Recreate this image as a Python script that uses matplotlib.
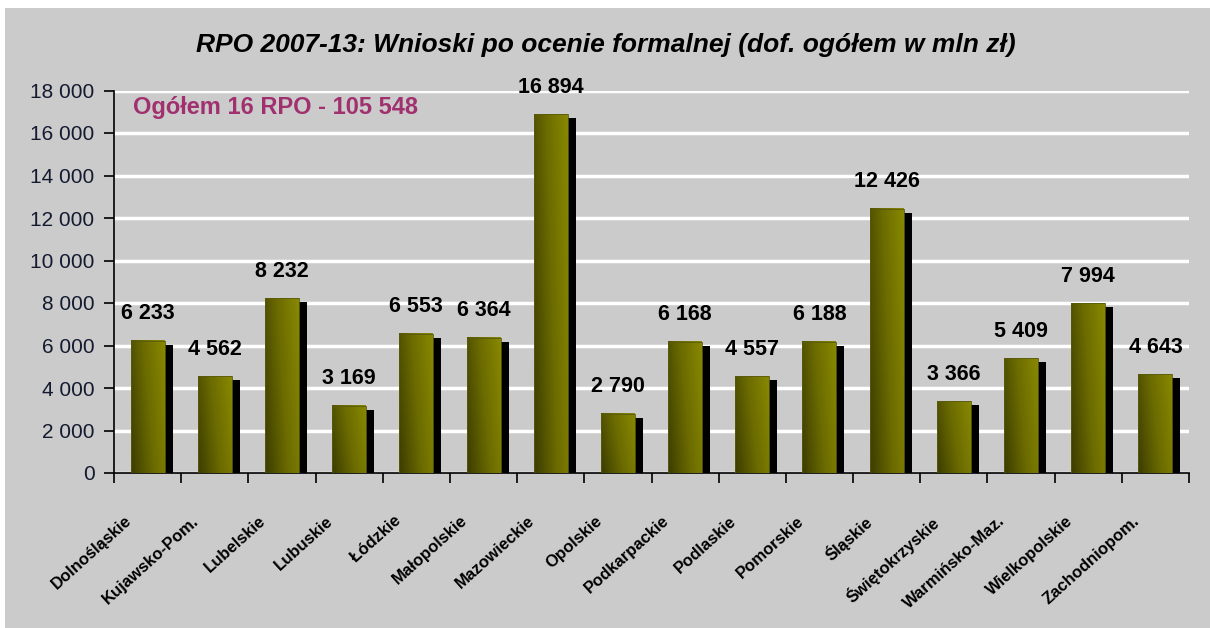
import numpy as np
import matplotlib
matplotlib.use("Agg")
from matplotlib import pyplot as plt
from matplotlib.colors import LinearSegmentedColormap
from matplotlib.patches import Rectangle
from matplotlib.transforms import ScaledTranslation

plt.rcParams['font.family'] = ['Liberation Sans', 'DejaVu Sans']

# Dane
wojewodztwa = ['Dolnośląskie', 'Kujawsko-Pom.', 'Lubelskie', 'Lubuskie', 'Łódzkie',
               'Małopolskie', 'Mazowieckie', 'Opolskie', 'Podkarpackie', 'Podlaskie',
               'Pomorskie', 'Śląskie', 'Świętokrzyskie', 'Warmińsko-Maz.',
               'Wielkopolskie', 'Zachodniopom.']
wartosci = [6233, 4562, 8232, 3169, 6553, 6364, 16894, 2790, 6168, 4557,
            6188, 12426, 3366, 5409, 7994, 4643]
tytul = 'RPO 2007-13: Wnioski po ocenie formalnej (dof. ogółem w mln zł)'
opis = 'Ogółem 16 RPO - 105 548'

tlo = '#cbcbcb'
fig = plt.figure(figsize=(12.1, 6.28), dpi=100)
fig.patch.set_facecolor(tlo)
# biale paski na brzegu jak w oryginale
fig.patches.append(Rectangle((0, 1 - 8 / 628), 1, 8 / 628, transform=fig.transFigure,
                             facecolor='white', edgecolor='none'))
fig.patches.append(Rectangle((0, 0), 5 / 1210, 1, transform=fig.transFigure,
                             facecolor='white', edgecolor='none'))

ax = fig.add_axes([114 / 1210, 1 - 473 / 628, 1075 / 1210, 382.5 / 628])
ax.set_facecolor(tlo)

cmap = LinearSegmentedColormap.from_list('oliwka', ['#3c3c00', '#6a6a00', '#888800'])
xx, yy = np.meshgrid(np.linspace(0, 1, 60), np.linspace(0, 1, 60))
gradient = 0.75 * xx + 0.25 * yy

x = np.arange(len(wartosci))
px = 1 / 67.2          # jeden piksel w jednostkach osi x
py = 2000 / 42.5       # jeden piksel w jednostkach osi y
szer = 34 * px

for i, v in enumerate(wartosci):
    x0 = x[i] - szer / 2
    # cien
    ax.add_patch(Rectangle((x0 + 8 * px, 0), szer, v - 4 * py,
                           facecolor='black', edgecolor='none', zorder=2))
    ax.imshow(gradient, cmap=cmap, extent=(x0, x0 + szer, 0, v), origin='lower',
              aspect='auto', zorder=3, interpolation='bilinear')
    ax.add_patch(Rectangle((x0, 0), szer, v, facecolor='none',
                           edgecolor='#5a5a10', linewidth=0.6, zorder=4))
    ax.text(x[i], v + 27 * py, f'{v:,}'.replace(',', ' '), ha='center', va='center',
            fontsize=15.5, fontweight='bold', color='black', zorder=5)

ax.set_xlim(-0.5, len(wartosci) - 0.5)
ax.set_ylim(0, 18000)
ax.set_yticks(np.arange(0, 18001, 2000))
ax.set_yticklabels([f'{t:,}'.replace(',', ' ') for t in range(0, 18001, 2000)],
                   fontsize=15, color='#141a30')
ax.grid(axis='y', color='white', linewidth=2.5, zorder=1)
ax.set_axisbelow(True)

ax.set_xticks(np.arange(-0.5, len(wartosci), 1))
ax.set_xticklabels([])
ax.tick_params(axis='x', length=7, width=1.2, direction='out')
ax.tick_params(axis='y', length=7, width=1.2, direction='out', pad=7)

# podpisy kategorii (przesuniete w lewo i w dol wzgledem srodka kategorii)
przes = ScaledTranslation(-23 / 100, -40 / 100, fig.dpi_scale_trans)
for i, nazwa in enumerate(wojewodztwa):
    ax.text(x[i], 0, nazwa, transform=ax.get_xaxis_transform() + przes,
            rotation=42, ha='right', va='top', rotation_mode='anchor',
            fontsize=12, fontweight='bold', clip_on=False)

for s in ['top', 'right']:
    ax.spines[s].set_visible(False)
for s in ['left', 'bottom']:
    ax.spines[s].set_linewidth(1.2)

fig.text(0.5 * (190 + 1022) / 1210, 1 - 45 / 628, tytul, ha='center', va='center',
         fontsize=19, fontweight='bold', fontstyle='italic')
ax.text(-0.5 + 19 * px, 18000 - 17 * py, opis, ha='left', va='center',
        fontsize=17, fontweight='bold', color='#a0306e')

plt.savefig('out.png', dpi=100, facecolor=fig.get_facecolor())
